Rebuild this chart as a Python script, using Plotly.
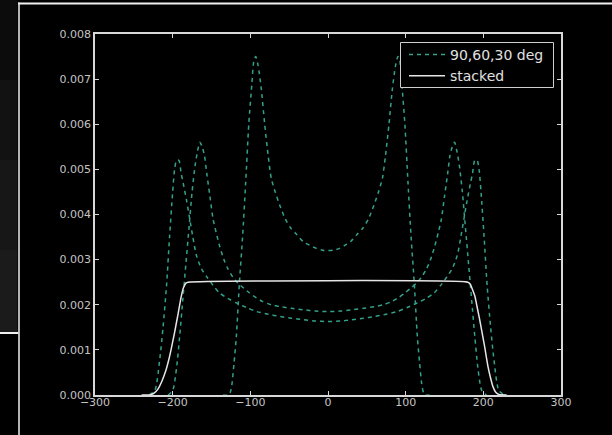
import plotly.graph_objects as go

# ---------------- data ----------------
deg30_x = [-135, -128, -126, -124, -121, -118, -114, -110, -106, -102, -98, -95.5, -93, -90, -86, -81.5, -77, -73,
           -68, -62, -55, -48, -40, -32, -24, -15, -7, 0,
           7, 15, 22, 29, 37, 45, 52, 59, 65, 70, 74, 78.5, 83, 87, 90, 92.5, 95, 99, 103, 107, 111, 115, 118,
           121, 123, 125, 132]
deg30_y = [0, 0, 0.00005, 0.0002, 0.0007, 0.0013, 0.0025, 0.0035, 0.0047, 0.006, 0.0069, 0.0074, 0.0075, 0.0073,
           0.0068, 0.006, 0.0053, 0.0048, 0.0045, 0.0042, 0.0039, 0.0037, 0.00355, 0.0034, 0.00332, 0.00325, 0.00321,
           0.0032,
           0.00321, 0.00325, 0.00332, 0.0034, 0.00355, 0.0037, 0.0039, 0.0042, 0.0045, 0.0048, 0.0053, 0.006, 0.0068,
           0.0073, 0.0075, 0.0074, 0.0069, 0.006, 0.0047, 0.0035, 0.0025, 0.0013, 0.0007, 0.0002, 0.00005, 0, 0]

deg60_x = [-206, -200, -195, -191, -187, -183, -179, -175, -171, -168, -165, -162, -159, -156, -152, -148, -144,
           -139.5, -134, -129, -122, -116, -108, -101, -92, -84, -73, -62, -47, -32, -16, 0,
           16, 31, 46, 60, 71, 82, 90, 99, 106, 114, 120, 127, 132, 137.5, 142, 146, 150, 154, 157, 160, 163, 166,
           169, 173, 177, 181, 185, 189, 193, 198, 204]
deg60_y = [0, 0.0001, 0.0006, 0.0013, 0.0021, 0.0029, 0.0037, 0.0045, 0.0051, 0.0054, 0.0056, 0.0055, 0.0053,
           0.0049, 0.0044, 0.0039, 0.0036, 0.0033, 0.003, 0.0028, 0.0026, 0.00248, 0.00236, 0.00226, 0.00215,
           0.00207, 0.002, 0.00196, 0.00192, 0.00189, 0.00186, 0.00185,
           0.00186, 0.00189, 0.00192, 0.00196, 0.002, 0.00207, 0.00215, 0.00226, 0.00236, 0.00248, 0.0026, 0.0028,
           0.003, 0.0033, 0.0036, 0.0039, 0.0044, 0.0049, 0.0053, 0.0055, 0.0056, 0.0054, 0.0051, 0.0045, 0.0037,
           0.0029, 0.0021, 0.0013, 0.0006, 0.0001, 0]

deg90_x = [-230, -223, -216.7, -212.4, -208, -204, -200, -197.5, -195, -192, -189, -186.5, -182, -178, -174,
           -169.5, -163, -156.5, -148, -139.5, -129, -118, -105, -92, -77, -62, -47, -32, -16, 0,
           16, 31, 45, 60, 75, 89, 102, 115, 126, 136.5, 145, 153.5, 160, 166.5, 171, 175, 179, 183.5, 186, 189,
           192, 194.5, 197, 201, 205, 209.4, 213.7, 220, 227]
deg90_y = [0, 0.0001, 0.00078, 0.0015, 0.0024, 0.0035, 0.0045, 0.005, 0.0052, 0.0052, 0.0049, 0.0047, 0.0043,
           0.0039, 0.0035, 0.0031, 0.0028, 0.00263, 0.00243, 0.00226, 0.00214, 0.00204, 0.00194, 0.00185, 0.00179,
           0.00174, 0.0017, 0.00167, 0.00164, 0.00163,
           0.00164, 0.00167, 0.0017, 0.00174, 0.00179, 0.00185, 0.00194, 0.00204, 0.00214, 0.00226, 0.00243,
           0.00263, 0.0028, 0.0031, 0.0035, 0.0039, 0.0043, 0.0047, 0.0049, 0.0052, 0.0052, 0.005, 0.0045, 0.0035,
           0.0024, 0.0015, 0.00078, 0.0001, 0]

stacked_x = [-240, -230, -224, -219, -214, -209, -205, -201.5, -197.5, -193, -189, -186, -183, -180,
             180, 183, 186, 189, 192, 195.3, 198.5, 201.7, 204, 206, 209, 212.5, 216, 220, 230]
stacked_y = [0, 0, 0.00004, 0.00013, 0.0003, 0.00053, 0.00078, 0.00105, 0.00139, 0.0018, 0.00218, 0.00238,
             0.00248, 0.0025,
             0.0025, 0.00246, 0.00234, 0.0022, 0.00195, 0.00167, 0.00137, 0.00107, 0.00083, 0.00063, 0.0004,
             0.00018, 0.00006, 0.00001, 0]

x_ticks = [-300, -200, -100, 0, 100, 200, 300]
y_ticks = [0, 0.001, 0.002, 0.003, 0.004, 0.005, 0.006, 0.007, 0.008]

dashed_name = "90,60,30 deg"
solid_name = "stacked"

# ---------------- figure ----------------
W, H = 612, 435
L, R, T, B = 95, 561, 34, 395  # plot area in pixels

DASH_COLOR = "#35a08a"
fig = go.Figure()
for i, (xs, ys) in enumerate([(deg90_x, deg90_y), (deg60_x, deg60_y), (deg30_x, deg30_y)]):
    fig.add_trace(go.Scatter(
        x=xs, y=ys, mode="lines", name=dashed_name, legendgroup="dashed",
        showlegend=(i == 0),
        line=dict(color=DASH_COLOR, width=1.5, dash="4px,4px", shape="spline", smoothing=0.7),
    ))
fig.add_trace(go.Scatter(
    x=stacked_x, y=stacked_y, mode="lines", name=solid_name,
    line=dict(color="#e6e6e6", width=1.5, shape="spline", smoothing=0.5),
))


def px(xp):
    return (xp - L) / (R - L)


def py(yp):
    return (B - yp) / (B - T)


shapes = []
# left dark panel (slight vertical gradient)
bands = [(0, 80, "#0c0c0c"), (80, 160, "#121212"), (160, 250, "#171717"), (250, 332, "#1b1b1b")]
for y0, y1, c in bands:
    shapes.append(dict(type="rect", xref="paper", yref="paper", x0=px(0), x1=px(17.5),
                       y0=py(y1), y1=py(y0), fillcolor=c, line=dict(width=0), layer="below"))
# white frame lines of the screenshot
shapes.append(dict(type="line", xref="paper", yref="paper", x0=px(18), x1=px(612), y0=py(3.5), y1=py(3.5),
                   line=dict(color="#f0f0f0", width=2)))
shapes.append(dict(type="line", xref="paper", yref="paper", x0=px(19), x1=px(19), y0=py(2.5), y1=py(435),
                   line=dict(color="#f0f0f0", width=1.5)))
shapes.append(dict(type="line", xref="paper", yref="paper", x0=px(0), x1=px(18.5), y0=py(333), y1=py(333),
                   line=dict(color="#f0f0f0", width=2)))
# legend frame (black box hiding the curves behind it)
shapes.append(dict(type="rect", xref="paper", yref="paper", x0=px(400.5), x1=px(553.5), y0=py(87.5), y1=py(42.5),
                   fillcolor="#000000", line=dict(color="#cfcfcf", width=1), layer="above"))

axis_common = dict(
    showgrid=False, zeroline=False, showline=True, linecolor="#d8d8d8", linewidth=1.5,
    mirror="ticks", ticks="inside", ticklen=4, tickwidth=1, tickcolor="#d8d8d8",
    tickfont=dict(family="DejaVu Sans", size=11, color="#c4c4c4"),
)

fig.update_layout(
    width=W, height=H,
    margin=dict(l=L, r=W - R, t=T, b=H - B, pad=0),
    paper_bgcolor="#000000", plot_bgcolor="#000000",
    xaxis=dict(range=[-300, 300], tickvals=x_ticks, ticklabelstandoff=-4, **axis_common),
    yaxis=dict(range=[0, 0.008], tickvals=y_ticks, tickformat=".3f", **axis_common),
    legend=dict(
        x=px(404), y=py(39), xanchor="left", yanchor="top",
        bgcolor="rgba(0,0,0,0)", borderwidth=0,
        font=dict(family="DejaVu Sans", size=14, color="#e0e0e0"),
        tracegroupgap=0, itemwidth=36,
    ),
    shapes=shapes,
    showlegend=True,
)

fig.write_html(
    "out.html",
    config={"displayModeBar": False},
    post_script="document.body.style.margin='0';document.body.style.background='#000';",
)
